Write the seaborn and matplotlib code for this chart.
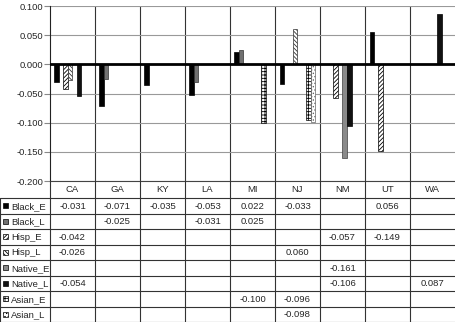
import numpy as np
import pandas as pd
import seaborn as sns
import matplotlib.pyplot as plt
from matplotlib.patches import Rectangle

states = ['CA', 'GA', 'KY', 'LA', 'MI', 'NJ', 'NM', 'UT', 'WA']
series = ['Black_E', 'Black_L', 'Hisp_E', 'Hisp_L', 'Native_E', 'Native_L', 'Asian_E', 'Asian_L']
nan = np.nan
black_e = [-0.031, -0.071, -0.035, -0.053, 0.022, -0.033, nan, 0.056, nan]
black_l = [nan, -0.025, nan, -0.031, 0.025, nan, nan, nan, nan]
hisp_e = [-0.042, nan, nan, nan, nan, nan, -0.057, -0.149, nan]
hisp_l = [-0.026, nan, nan, nan, nan, 0.060, nan, nan, nan]
native_e = [nan, nan, nan, nan, nan, nan, -0.161, nan, nan]
native_l = [-0.054, nan, nan, nan, nan, nan, -0.106, nan, 0.087]
asian_e = [nan, nan, nan, nan, -0.100, -0.096, nan, nan, nan]
asian_l = [nan, nan, nan, nan, nan, -0.098, nan, nan, nan]
yticks = [-0.200, -0.150, -0.100, -0.050, 0.000, 0.050, 0.100]

values = [black_e, black_l, hisp_e, hisp_l, native_e, native_l, asian_e, asian_l]

# fill, hatch, edge (hatch colour = edge colour)
styles = {
    'Black_E': ('#000000', '', '#000000'),
    'Black_L': ('#707070', '', '#303030'),
    'Hisp_E': ('#ffffff', '////////', '#000000'),
    'Hisp_L': ('#ffffff', '\\\\\\\\\\\\\\\\', '#333333'),
    'Native_E': ('#8a8a8a', '', '#404040'),
    'Native_L': ('#111111', '', '#000000'),
    'Asian_E': ('#ffffff', '+++++', '#000000'),
    'Asian_L': ('#ffffff', '.....', '#666666'),
}

df = pd.DataFrame({
    'state': states * len(series),
    'series': np.repeat(series, len(states)),
    'value': np.concatenate(values),
}).dropna()

sns.set_theme(style='white')
plt.rcParams['font.family'] = ['Liberation Sans', 'DejaVu Sans']
plt.rcParams['hatch.linewidth'] = 0.6
fs = 6.8

fig = plt.figure(figsize=(4.56, 3.23), dpi=100)
ax = fig.add_axes([50 / 456, 1 - 181 / 323, 405 / 456, 175 / 323])

sns.barplot(data=df, x='state', y='value', hue='series', order=states,
            hue_order=series, errorbar=None, legend=False, width=0.8,
            saturation=1, ax=ax)

for name, cont in zip(series, ax.containers):
    fc, hatch, ec = styles[name]
    for bar in cont:
        bar.set_facecolor(fc)
        bar.set_edgecolor(ec)
        bar.set_hatch(hatch)
        bar.set_linewidth(0.5)

ax.set_xlim(-0.5, 8.5)
ax.set_ylim(-0.2, 0.1)
ax.set_yticks(yticks)
ax.set_yticklabels([f'{v:.3f}' for v in yticks])
ax.yaxis.grid(True, color='#999999', lw=0.8)
ax.set_axisbelow(True)
for k in range(8):
    ax.axvline(k + 0.5, color='#333333', lw=0.8, zorder=0)
ax.axhline(0, color='black', lw=2, zorder=3)
ax.tick_params(axis='y', left=True, length=4, width=0.8, color='#888888',
               labelsize=fs, pad=1)
ax.tick_params(axis='x', length=0, labelbottom=False)
ax.set_xlabel('')
ax.set_ylabel('')
for side in ['top', 'right']:
    ax.spines[side].set_visible(False)
ax.spines['left'].set_color('#222222')
ax.spines['left'].set_linewidth(0.8)
ax.spines['bottom'].set_color('#444444')
ax.spines['bottom'].set_linewidth(0.8)

# data table below the chart
tax = fig.add_axes([0, 1 - 322 / 323, 455 / 456, 141 / 323])
xmin = -0.5 - 50 / 45
tax.set_xlim(xmin, 8.5)
tax.set_ylim(141, 0)
tax.axis('off')
head = 17
rowh = 15.5
lc = '#333333'
for k in range(9):
    tax.plot([k - 0.5, k - 0.5], [0, 141], color=lc, lw=0.8)
tax.plot([xmin + 0.005, xmin + 0.005], [head, 141], color=lc, lw=0.8)
for i in range(9):
    y = head + rowh * i
    tax.plot([xmin, 8.5], [y, y], color=lc, lw=0.8)

for j, s in enumerate(states):
    tax.text(j, head / 2 + 0.5, s, ha='center', va='center', fontsize=fs)

px = 1 / 45
for i, (name, vals) in enumerate(zip(series, values)):
    yc = head + rowh * (i + 0.5)
    fc, hatch, ec = styles[name]
    tax.add_patch(Rectangle((xmin + 3 * px, yc - 2.5), 5 * px, 5,
                            facecolor=fc, edgecolor='#000000', hatch=hatch,
                            lw=0.5))
    tax.text(xmin + 11 * px, yc + 0.5, name, ha='left', va='center', fontsize=fs)
    for j, v in enumerate(vals):
        if not np.isnan(v):
            tax.text(j, yc + 0.5, f'{v:.3f}', ha='center', va='center', fontsize=fs)

fig.savefig('out.png', dpi=100)
